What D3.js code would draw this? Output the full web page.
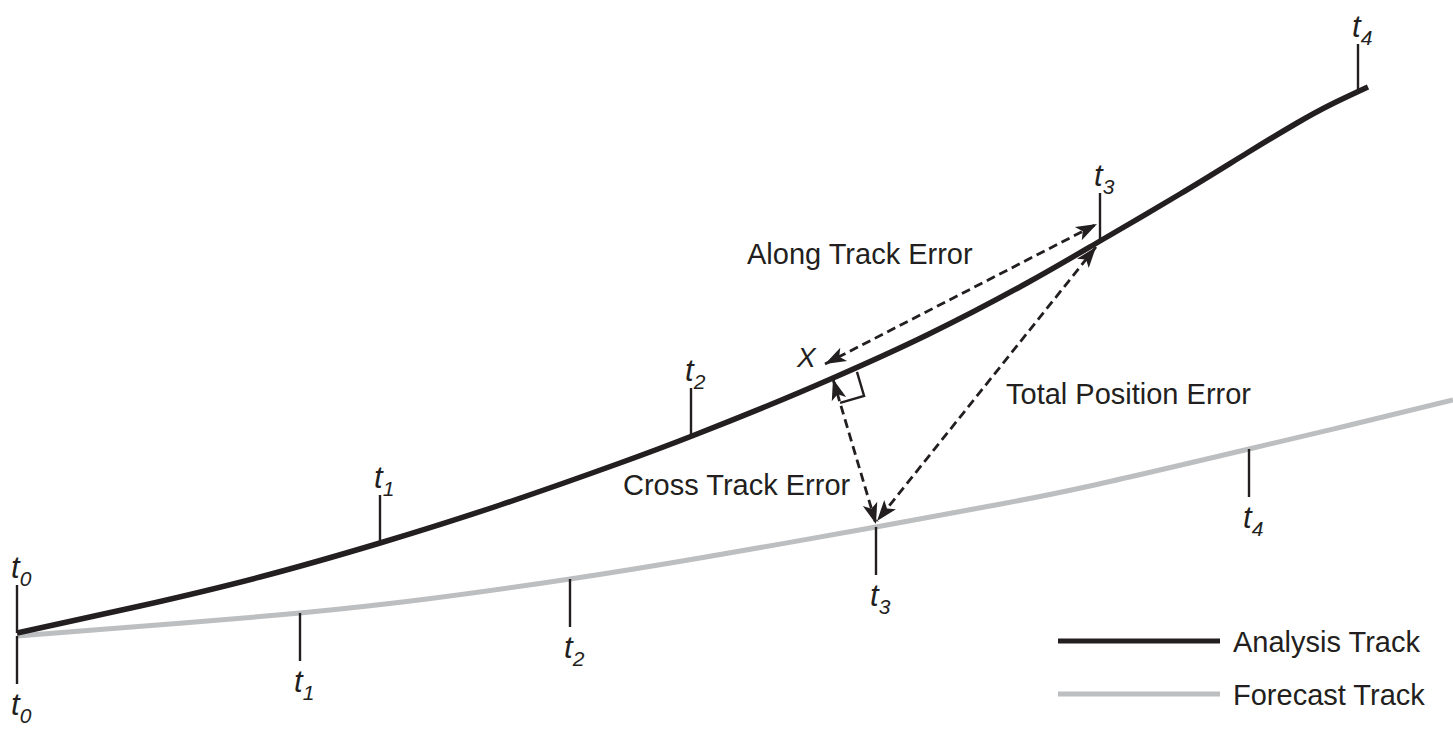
<!DOCTYPE html>
<html>
<head>
<meta charset="utf-8">
<script src="https://cdn.jsdelivr.net/npm/d3@7"></script>
<style>
  body { margin: 0; background: #fff; }
  text { font-family: "Liberation Sans", Arial, Helvetica, sans-serif; fill: #231f20; }
</style>
</head>
<body>
<svg id="chart" width="1453" height="731"></svg>
<script>
// Data (diagram units: x = distance along, y = distance north, origin at t0)

var analysisTrack = [[0,0],[123,27],[243,56],[363,90],[483,128],[603,170],[675,197],[750,227],[816,255],
  [910,298],[1010,350],[1083,392],[1163,439],[1230,480],[1280,510],[1313,528],[1351,546]];
var forecastTrack = [[0,-3],[166,10],[283,20],[410,34],[553,54],[683,75],[859,106],[973,127],[1073,147],
  [1232,184],[1333,208],[1436,233]];

var tickLabels = ["0", "1", "2", "3", "4"];
var analysisTicks = [[0,0],[363,90],[674,197],[1083,392],[1341,541]];
var forecastTicks = [[0,-3],[283,20],[553,54],[859,106],[1232,184]];

var errorNames = ["Along Track Error", "Cross Track Error", "Total Position Error"];
var errorFrom = [[808,269],[816,254],[1079,386]];
var errorTo = [[1080,409],[859,109],[860,112]];

var legendLabels = ["Analysis Track", "Forecast Track"];

// Scales

var x = d3.scaleLinear().domain([0, 1436]).range([17, 1453]);
var y = d3.scaleLinear().domain([0, 640]).range([633, -7]);

var svg = d3.select("#chart");
var ink = "#231f20", grey = "#bcbec0";

var line = d3.line()
  .x(function(d) { return x(d[0]); })
  .y(function(d) { return y(d[1]); })
  .curve(d3.curveNatural);

// arrow head
svg.append("defs").append("marker")
  .attr("id", "head")
  .attr("viewBox", "-22 -9 24 18")
  .attr("refX", 0).attr("refY", 0)
  .attr("markerUnits", "userSpaceOnUse")
  .attr("markerWidth", 24).attr("markerHeight", 18)
  .attr("orient", "auto-start-reverse")
  .append("path")
  .attr("d", "M0,0 L-21,-7.5 L-16,0 L-21,7.5 Z")
  .attr("fill", ink);

// tracks
svg.append("path").datum(forecastTrack)
  .attr("d", line).attr("fill", "none")
  .attr("stroke", grey).attr("stroke-width", 5);
svg.append("path").datum(analysisTrack)
  .attr("d", line).attr("fill", "none")
  .attr("stroke", ink).attr("stroke-width", 5.5).attr("stroke-linecap", "butt");

// ticks with labels
function addTicks(points, dir) {
  var g = svg.append("g");
  points.forEach(function(p, i) {
    var px = x(p[0]), py = y(p[1]);
    var end = py + dir * 48;
    g.append("line")
      .attr("x1", px).attr("x2", px)
      .attr("y1", py).attr("y2", end)
      .attr("stroke", ink).attr("stroke-width", 2.4);
    var t = g.append("text")
      .attr("x", px - 6)
      .attr("y", dir < 0 ? end - 7 : end + 31)
      .style("font-size", "31px")
      .style("font-style", "italic");
    t.append("tspan").text("t");
    t.append("tspan").attr("dy", 8).style("font-size", "21px").text(tickLabels[i]);
  });
}
addTicks(analysisTicks, -1);
addTicks(forecastTicks, 1);

// error arrows
errorNames.forEach(function(name, i) {
  svg.append("line")
    .attr("x1", x(errorFrom[i][0])).attr("y1", y(errorFrom[i][1]))
    .attr("x2", x(errorTo[i][0])).attr("y2", y(errorTo[i][1]))
    .attr("stroke", ink).attr("stroke-width", 2.8)
    .attr("stroke-dasharray", "9,5")
    .attr("marker-start", "url(#head)")
    .attr("marker-end", "url(#head)");
});

// right angle mark where the cross track arrow meets the analysis track
(function() {
  var ax = x(errorFrom[1][0]), ay = y(errorFrom[1][1]);
  var bx = x(errorTo[1][0]), by = y(errorTo[1][1]);
  var len = Math.hypot(bx - ax, by - ay);
  var nx = (bx - ax) / len, ny = (by - ay) / len;
  var ux = -ny, uy = nx;
  if (ux < 0) { ux = -ux; uy = -uy; }
  var s = 25;
  svg.append("path")
    .attr("d", "M" + (ax + ux * s) + "," + (ay + uy * s) +
               "L" + (ax + ux * s + nx * s) + "," + (ay + uy * s + ny * s) +
               "L" + (ax + nx * s) + "," + (ay + ny * s))
    .attr("fill", "none").attr("stroke", ink).attr("stroke-width", 2.4);
})();

// annotation texts
var notes = [
  { text: errorNames[0], x: 747, y: 264 },
  { text: errorNames[1], x: 623, y: 495 },
  { text: errorNames[2], x: 1006, y: 404 }
];
svg.selectAll("text.note").data(notes).enter().append("text")
  .attr("class", "note")
  .attr("x", function(d) { return d.x; })
  .attr("y", function(d) { return d.y; })
  .style("font-size", "29px")
  .text(function(d) { return d.text; });

svg.append("text")
  .attr("x", 797).attr("y", 367)
  .style("font-size", "28px").style("font-style", "italic")
  .text("X");

// legend
var legend = svg.append("g").attr("transform", "translate(1058,641)");
legendLabels.forEach(function(label, i) {
  legend.append("line")
    .attr("x1", 0).attr("x2", 162)
    .attr("y1", i * 53).attr("y2", i * 53)
    .attr("stroke", i === 0 ? ink : grey).attr("stroke-width", 5);
  legend.append("text")
    .attr("x", 175).attr("y", i * 53 + 11)
    .style("font-size", "29px")
    .text(label);
});
</script>
</body>
</html>
